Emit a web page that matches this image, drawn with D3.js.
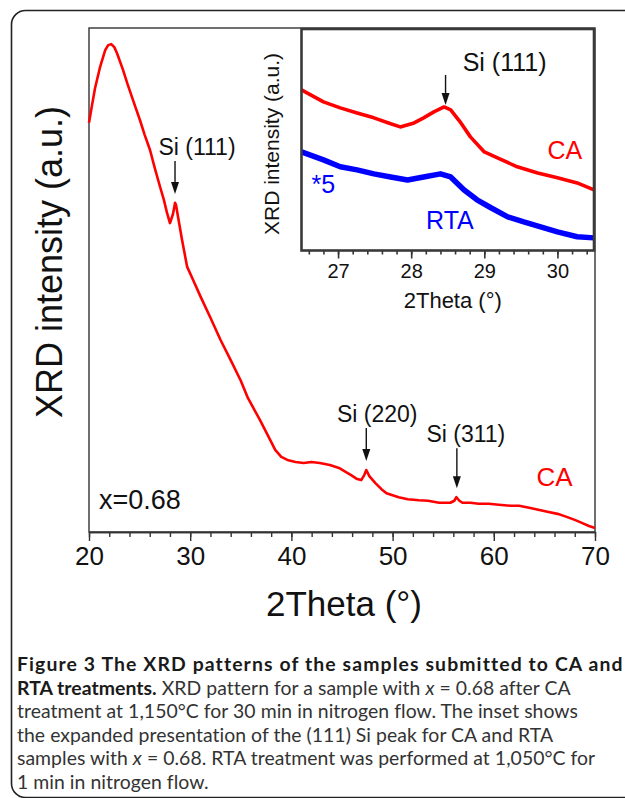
<!DOCTYPE html>
<html><head><meta charset="utf-8">
<script src="https://cdn.jsdelivr.net/npm/d3@7"></script>
<style>html,body{margin:0;padding:0;background:#fff;} svg{display:block;}</style>
</head><body>
<svg id="c" width="625" height="798"></svg>
<script>
// ---------- data ----------
const mainTheta = [20.0,20.3,20.6,21.1,21.6,21.9,22.2,22.5,22.77,23.36,23.8,24.35,25.04,25.5,26.03,26.5,27.02,27.4,27.71,28.0,28.3,28.5,28.6,28.8,29.2,29.7,30.2,31,32,33,34,35,35.7,36.9,38.0,38.4,39.0,39.6,40.4,41.2,42.0,42.8,43.8,44.7,45.4,45.9,46.5,46.9,47.2,47.4,47.7,48.3,48.9,49.4,50.0,50.6,51.5,52.6,53.5,54.6,55.7,56.1,56.3,56.6,56.9,57.7,58.5,59.5,60.5,61.7,62.5,63.5,64.4,65.3,66.3,67.2,68.0,68.7,69.4,70.0];
const mainCA = [81.2,84.7,88.1,92.3,95.6,96.6,96.8,96.2,95.0,91.7,88.9,85.7,81.7,78.8,75.8,72.2,68.5,65.9,63.3,61.3,63.1,65.3,64.9,62.5,57.9,52.6,50.4,46.8,42.5,38.1,34.1,30.0,26.6,22.2,17.9,16.3,14.9,14.3,13.9,13.7,13.9,13.7,13.3,12.7,11.9,11.3,10.5,10.3,11.3,12.3,11.1,9.7,8.5,7.7,7.3,6.9,6.5,6.3,6.2,5.8,5.8,6.2,6.9,6.2,5.8,5.8,5.6,5.6,5.4,5.2,5.2,4.8,4.4,4.0,3.6,3.0,2.4,1.8,1.2,0.8];

const insetThetaCA = [26.5,26.8,27.03,27.26,27.49,27.72,27.85,28.04,28.17,28.31,28.45,28.54,28.68,28.81,29.0,29.18,29.45,29.73,30.0,30.27,30.5];
const insetCA = [72.5,67.1,64.4,62.1,59.9,57.2,55.8,57.6,59.9,62.6,64.8,63.5,57.6,51.3,44.5,41.8,37.8,35.0,32.8,30.5,27.4];
const insetThetaRTA = [26.5,26.8,27.03,27.26,27.49,27.72,27.95,28.17,28.4,28.54,28.72,28.9,29.09,29.32,29.54,29.77,30.0,30.27,30.5];
const insetRTA = [44.5,40.9,37.8,36.4,34.6,33.2,31.8,33.2,34.6,33.2,27.4,22.9,19.3,15.2,12.9,10.7,8.4,6.2,5.7];

const mainTicks = [20,30,40,50,60,70];
const mainMinorTicks = d3.range(20, 70.001, 2);
const insetTicks = [27,28,29,30];
const insetMinorTicks = d3.range(26.6, 30.5, 0.2).map(v => +v.toFixed(1));

const peakLabels = ["Si (111)", "Si (220)", "Si (311)"];
const peakTheta = [28.5, 47.4, 56.35];
const peakValue = [65.3, 12.3, 6.9];

const RED = "#ff0000", BLUE = "#0000ff";
const FONT = "'Liberation Sans', Arial, sans-serif";

// ---------- layout ----------
const svg = d3.select("#c");
const x = d3.scaleLinear([20, 70], [89, 595]);
const y = d3.scaleLinear([0, 100], [532, 28]);
const xi = d3.scaleLinear([26.5, 30.5], [301.5, 594]);
const yi = d3.scaleLinear([0, 100], [250.5, 29]);

// outer rounded border
svg.append("rect").attr("x", 11.5).attr("y", 10.5).attr("width", 720).attr("height", 787)
  .attr("rx", 14).attr("fill", "none").attr("stroke", "#222").attr("stroke-width", 1.6);

// main frame
svg.append("rect").attr("x", x(20)).attr("y", y(100)).attr("width", x(70) - x(20)).attr("height", y(0) - y(100))
  .attr("fill", "none").attr("stroke", "#333").attr("stroke-width", 1.4);

// main x axis
const gMinor = svg.append("g").attr("transform", `translate(0,${y(0)})`)
  .call(d3.axisBottom(x).tickValues(mainMinorTicks).tickSize(5).tickSizeOuter(0).tickFormat(""));
const gMajor = svg.append("g").attr("transform", `translate(0,${y(0)})`)
  .call(d3.axisBottom(x).tickValues(mainTicks).tickSize(9).tickSizeOuter(0).tickPadding(6).tickFormat(d3.format("d")));
[gMinor, gMajor].forEach(g => {
  g.select(".domain").attr("stroke", "#333").attr("stroke-width", 1.6);
  g.selectAll(".tick line").attr("stroke", "#333").attr("stroke-width", 1.4);
});
gMajor.selectAll(".tick text").attr("font-family", FONT).attr("font-size", 26).attr("fill", "#111");

// axis titles
svg.append("text").attr("x", (x(20) + x(70)) / 2 + 2).attr("y", 616).attr("text-anchor", "middle")
  .attr("font-family", FONT).attr("font-size", 35).attr("fill", "#111").text("2Theta (°)");
svg.append("text").attr("transform", `translate(62,262) rotate(-90)`).attr("text-anchor", "middle")
  .attr("font-family", FONT).attr("font-size", 36).attr("fill", "#111").text("XRD intensity (a.u.)");

// main CA curve
const mainLine = d3.line().x(d => x(d[0])).y(d => y(d[1]));
svg.append("path").datum(d3.zip(mainTheta, mainCA)).attr("d", mainLine)
  .attr("fill", "none").attr("stroke", RED).attr("stroke-width", 2.6).attr("stroke-linejoin", "round");

// arrows
function arrow(px, yTop, yTip) {
  const head = 12, hw = 4;
  svg.append("line").attr("x1", px).attr("x2", px).attr("y1", yTop).attr("y2", yTip - head + 1)
    .attr("stroke", "#111").attr("stroke-width", 1.4);
  svg.append("path").attr("d", `M${px - hw},${yTip - head} L${px + hw},${yTip - head} L${px},${yTip} Z`)
    .attr("fill", "#111");
}
const peakLabelOffsetX = [22, 11, 9];
peakLabels.forEach((lab, i) => {
  const px = x(peakTheta[i]);
  const tip = y(peakValue[i]) - 9;
  const top = tip - (i === 2 ? 40 : 33);
  arrow(px, top, tip);
  svg.append("text").attr("x", px + peakLabelOffsetX[i]).attr("y", top - 6).attr("text-anchor", "middle")
    .attr("font-family", FONT).attr("font-size", 23).attr("fill", "#111").text(lab);
});

// main labels
svg.append("text").attr("x", x(66)).attr("y", y(9.1)).attr("text-anchor", "middle")
  .attr("font-family", FONT).attr("font-size", 26).attr("fill", RED).text("CA");
svg.append("text").attr("x", 99).attr("y", 509).attr("font-family", FONT).attr("font-size", 27)
  .attr("fill", "#111").text("x=0.68");

// ---------- inset ----------
svg.append("rect").attr("x", xi(26.5)).attr("y", yi(100)).attr("width", xi(30.5) - xi(26.5)).attr("height", yi(0) - yi(100))
  .attr("fill", "#fff");
const giMinor = svg.append("g").attr("transform", `translate(0,${yi(0)})`)
  .call(d3.axisBottom(xi).tickValues(insetMinorTicks).tickSize(4).tickSizeOuter(0).tickFormat(""));
const giMajor = svg.append("g").attr("transform", `translate(0,${yi(0)})`)
  .call(d3.axisBottom(xi).tickValues(insetTicks).tickSize(8).tickSizeOuter(0).tickPadding(5).tickFormat(d3.format("d")));
[giMinor, giMajor].forEach(g => {
  g.select(".domain").attr("stroke", "none");
  g.selectAll(".tick line").attr("stroke", "#333").attr("stroke-width", 1.6);
});
giMajor.selectAll(".tick text").attr("font-family", FONT).attr("font-size", 20).attr("fill", "#111");

const insetLine = d3.line().x(d => xi(d[0])).y(d => yi(d[1]));
svg.append("path").datum(d3.zip(insetThetaCA, insetCA)).attr("d", insetLine)
  .attr("fill", "none").attr("stroke", RED).attr("stroke-width", 3.6).attr("stroke-linejoin", "round");
svg.append("path").datum(d3.zip(insetThetaRTA, insetRTA)).attr("d", insetLine)
  .attr("fill", "none").attr("stroke", BLUE).attr("stroke-width", 5.5).attr("stroke-linejoin", "round");

svg.append("rect").attr("x", xi(26.5)).attr("y", yi(100)).attr("width", xi(30.5) - xi(26.5)).attr("height", yi(0) - yi(100))
  .attr("fill", "none").attr("stroke", "#3a3a3a").attr("stroke-width", 2.6);

// inset arrow + labels
{
  const px = xi(28.47);
  const tip = yi(64.8) - 2;
  arrow(px, tip - 30, tip);
  svg.append("text").attr("x", px + 59).attr("y", tip - 34).attr("text-anchor", "middle")
    .attr("font-family", FONT).attr("font-size", 25).attr("fill", "#111").text("Si (111)");
}
svg.append("text").attr("x", xi(30.1)).attr("y", yi(45.4) + 9).attr("text-anchor", "middle")
  .attr("font-family", FONT).attr("font-size", 25).attr("fill", RED).text("CA");
svg.append("text").attr("x", xi(28.53)).attr("y", yi(13.8) + 9).attr("text-anchor", "middle")
  .attr("font-family", FONT).attr("font-size", 25).attr("fill", BLUE).text("RTA");
svg.append("text").attr("x", xi(26.8)).attr("y", yi(30) + 9).attr("text-anchor", "middle")
  .attr("font-family", FONT).attr("font-size", 25).attr("fill", BLUE).text("*5");
svg.append("text").attr("x", (xi(26.5) + xi(30.5)) / 2 + 5).attr("y", 308).attr("text-anchor", "middle")
  .attr("font-family", FONT).attr("font-size", 22).attr("fill", "#111").text("2Theta (°)");
svg.append("text").attr("transform", `translate(279,144) rotate(-90)`).attr("text-anchor", "middle")
  .attr("font-family", FONT).attr("font-size", 21).attr("fill", "#111").text("XRD intensity (a.u.)");

// ---------- caption ----------
const capLines = [
  [["Figure 3 The XRD patterns of the samples submitted to CA and", "b"]],
  [["RTA treatments.", "b"], [" XRD pattern for a sample with ", "n"], ["x", "i"], [" = 0.68 after CA", "n"]],
  [["treatment at 1,150°C for 30 min in nitrogen flow. The inset shows", "n"]],
  [["the expanded presentation of the (111) Si peak for CA and RTA", "n"]],
  [["samples with ", "n"], ["x", "i"], [" = 0.68. RTA treatment was performed at 1,050°C for", "n"]],
  [["1 min in nitrogen flow.", "n"]]
];
const capFont = "Lato, 'Open Sans', sans-serif";
const capTop = 671, capStep = 23.6, capFs = 19.4;
const cap = svg.append("g");
function fitSpacing(str, weight, target) {
  const t = cap.append("text").attr("font-family", capFont).attr("font-size", capFs)
    .attr("font-weight", weight).text(str);
  const w = t.node().getComputedTextLength();
  t.remove();
  return Math.max(0, Math.min(1.6, (target - w) / (str.length - 1)));
}
const lsBold = fitSpacing(capLines[0][0][0], "bold", 604);
const lsNormal = fitSpacing(capLines[2][0][0], "normal", 561);
capLines.forEach((segs, i) => {
  const t = cap.append("text").attr("x", 17).attr("y", capTop + i * capStep)
    .attr("font-family", capFont).attr("font-size", capFs)
    .attr("letter-spacing", i === 0 ? lsBold : lsNormal);
  segs.forEach(([s, st]) => {
    t.append("tspan").text(s)
      .attr("font-weight", st === "b" ? "bold" : "normal")
      .attr("font-style", st === "i" ? "italic" : "normal")
      .attr("fill", st === "b" ? "#1a1a1a" : "#333");
  });
});
</script>
</body></html>
